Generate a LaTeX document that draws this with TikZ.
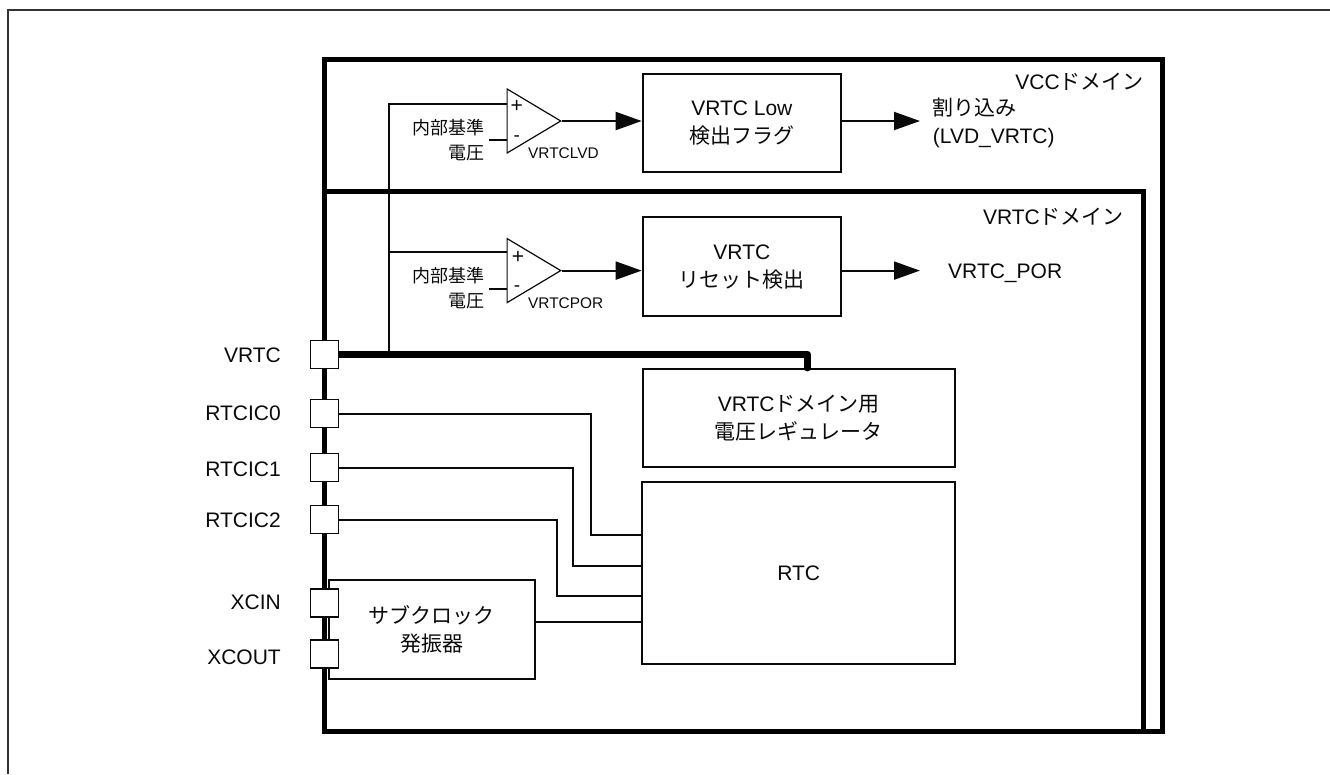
\documentclass[tikz,border=0pt]{standalone}
\usepackage{fontspec}
\setmainfont{Liberation Sans}
\newfontfamily\jp{Noto Sans CJK JP}
\usetikzlibrary{arrows.meta, positioning, shapes.geometric}
\definecolor{framegray}{HTML}{333333}
\definecolor{inkblack}{HTML}{0A0A0A}

\begin{document}
\begin{tikzpicture}[
    x=1pt, y=-1pt,
    label21/.style={inner sep=0pt, font=\fontsize{21}{28}\selectfont, align=center, text=inkblack},
    label18/.style={inner sep=0pt, font=\fontsize{18}{25}\selectfont, align=right, anchor=east, text=inkblack},
    label15/.style={inner sep=0pt, font=\fontsize{15.4}{18}\selectfont, anchor=west, text=inkblack},
    domainbox/.style={rectangle, draw=black, line width=5pt, inner sep=0pt},
    block/.style={rectangle, draw=inkblack, line width=2pt, inner sep=0pt, fill=white, label21},
    padbox/.style={rectangle, draw=inkblack, line width=1.8pt, fill=white, minimum size=28pt, inner sep=0pt},
    comparator/.style={isosceles triangle, isosceles triangle stretches, draw=inkblack, line width=1.2pt, minimum width=64pt, minimum height=53.6pt, inner sep=0pt, anchor=apex},
    wire/.style={draw=inkblack, line width=2pt},
    arr/.style={wire, -{Triangle[length=26pt, width=18pt]}},
    busline/.style={draw=black, line width=7.5pt, line join=round, line cap=round}
]
    \useasboundingbox (0,0) rectangle (1330,774);

    % Frame
    \draw[framegray, line width=2pt] (7.5,774) -- (7.5,9.5) -- (1330,9.5);

    % Domains
    \node[domainbox, minimum width=838.7pt, minimum height=672.7pt] (vccdomain) at (743.35,395.35) {};
    \node[domainbox, minimum width=819.7pt, minimum height=540.7pt] (vrtcdomain) at (733.85,461.35) {};
    \node[label21, anchor=east] (vcclabel) at (1144,81.7) {VCC{\jp ドメイン}};
    \node[label21, anchor=east] (vrtclabel) at (1124,216.7) {VRTC{\jp ドメイン}};

    % Blocks
    \node[block, minimum width=198.3pt, minimum height=98.3pt] (lowflag) at (741.85,123) {VRTC Low\\{\jp 検出フラグ}};
    \node[block, minimum width=198.3pt, minimum height=98.7pt] (resetdet) at (741.85,266.65) {VRTC\\{\jp リセット検出}};
    \node[block, minimum width=312pt, minimum height=98.3pt] (regulator) at (798.7,417.85) {VRTC{\jp ドメイン用}\\{\jp 電圧レギュレータ}};
    \node[block, minimum width=312.7pt, minimum height=181.4pt] (rtc) at (798.65,573) {RTC};
    \node[block, minimum width=206.3pt, minimum height=98.7pt] (subosc) at (431.85,629.65) {{\jp サブクロック}\\{\jp 発振器}};

    % Comparators
    \node[comparator] (cmplvd) at (562.3,121) {};
    \node[comparator] (cmppor) at (562.3,270.6) {};
    \node[label18] (reflvd) at (485,140.5) {{\jp 内部基準}\\{\jp 電圧}};
    \node[label18] (refpor) at (485,288.5) {{\jp 内部基準}\\{\jp 電圧}};
    \node[label15] (namelvd) at (528,152.7) {VRTCLVD};
    \node[label15] (namepor) at (528,303) {VRTCPOR};
    \node[label15, anchor=center, font=\fontsize{21}{21}\selectfont] (pluslvd) at (516.7,106.7) {+};
    \node[label15, anchor=center, font=\fontsize{19}{19}\selectfont] (minuslvd) at (516.7,139) {-};
    \node[label15, anchor=center, font=\fontsize{21}{21}\selectfont] (pluspor) at (518,257) {+};
    \node[label15, anchor=center, font=\fontsize{19}{19}\selectfont] (minuspor) at (517,289) {-};

    % Outputs
    \coordinate (irqend) at (920,121);
    \coordinate (porend) at (920,270.6);
    \node[label21, anchor=west, align=left] (irqtext) at (932.7,123) {{\jp 割り込み}\\(LVD\_VRTC)};
    \node[label21, anchor=west] (portext) at (948,273) {VRTC\_POR};

    % Pads
    \node[padbox] (vrtcpad) at (324.5,354.5) {};
    \node[padbox] (rtcic0pad) at (324.5,413.5) {};
    \node[padbox] (rtcic1pad) at (324.5,467.5) {};
    \node[padbox] (rtcic2pad) at (324.5,519.5) {};
    \node[padbox] (xcinpad) at (324.5,602.7) {};
    \node[padbox] (xcoutpad) at (324.5,654) {};
    \node[label21, anchor=east] (vrtcname) at (281,355) {VRTC};
    \node[label21, anchor=east] (rtcic0name) at (281,413) {RTCIC0};
    \node[label21, anchor=east] (rtcic1name) at (281,469) {RTCIC1};
    \node[label21, anchor=east] (rtcic2name) at (281,520) {RTCIC2};
    \node[label21, anchor=east] (xcinname) at (281,602.7) {XCIN};
    \node[label21, anchor=east] (xcoutname) at (281,657) {XCOUT};

    % Connectors
    \draw[wire] (vrtcpad.east -| 388.5,0) -- (388.5,104) -- (388.5,104 -| cmplvd.west);
    \draw[wire] (388.5,252) -- (388.5,252 -| cmppor.west);
    \draw[wire] (489,140) -- (489,140 -| cmplvd.west);
    \draw[wire] (489,289) -- (489,289 -| cmppor.west);
    \draw[arr] (cmplvd.apex) -- (cmplvd.apex -| lowflag.west);
    \draw[arr] (cmppor.apex) -- (cmppor.apex -| resetdet.west);
    \draw[arr] (irqend -| lowflag.east) -- (irqend);
    \draw[arr] (porend -| resetdet.east) -- (porend);
    \draw[busline, line cap=butt] (vrtcpad.east) -- (400,354.5);
    \draw[busline] (400,354.5) -- (807.3,354.5) -- (807.3,354.5 |- regulator.north);
    \draw[wire] (rtcic0pad.east) -| (590.7,535) -- (590.7,535 -| rtc.west);
    \draw[wire] (rtcic1pad.east) -| (573.3,565.7) -- (573.3,565.7 -| rtc.west);
    \draw[wire] (rtcic2pad.east) -| (557.3,595.7) -- (557.3,595.7 -| rtc.west);
    \draw[wire] (subosc.east |- 0,622.3) -- (rtc.west |- 0,622.3);
\end{tikzpicture}
\end{document}
